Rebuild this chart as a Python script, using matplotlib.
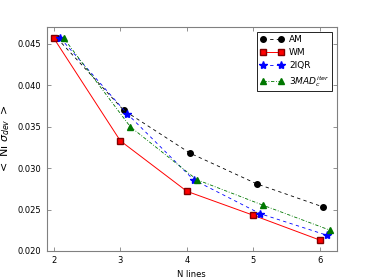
import matplotlib
matplotlib.use('Agg')
import matplotlib.pyplot as plt

# N lines and the offsets used to separate the estimators
n_lines = [2, 3, 4, 5, 6]
x_am = [2.05, 3.05, 4.05, 5.05, 6.05]
x_wm = [2.0, 3.0, 4.0, 5.0, 6.0]
x_iqr = [2.1, 3.1, 4.1, 5.1, 6.1]
x_mad = [2.15, 3.15, 4.15, 5.15, 6.15]

# < Ni sigma_dev > for each estimator
am = [0.0457, 0.0370, 0.0318, 0.0281, 0.0253]
wm = [0.0457, 0.0333, 0.0272, 0.0243, 0.0213]
iqr = [0.0457, 0.0366, 0.0286, 0.0245, 0.0219]
mad = [0.0457, 0.0350, 0.0286, 0.0255, 0.0225]

plt.rcParams['font.size'] = 6
plt.rcParams['xtick.direction'] = 'in'
plt.rcParams['ytick.direction'] = 'in'
plt.rcParams['xtick.top'] = True
plt.rcParams['ytick.right'] = True

fig = plt.figure(figsize=(3.74, 2.8), dpi=100)
ax = fig.add_axes([0.126, 0.104, 0.774, 0.798])

ax.plot(x_am, am, 'ko', ls=(0, (4, 4)), lw=0.6, ms=4, label='AM')
ax.plot(x_wm, wm, 'rs-', lw=0.7, ms=4, mec='#800000', label='WM')
ax.plot(x_iqr, iqr, 'b*', ls=(0, (4, 4)), lw=0.6, ms=6, label='2IQR')
ax.plot(x_mad, mad, '^', ls=(0, (4, 2, 1, 2)), color='#007700', lw=0.6, ms=4,
        label=r'$3MAD_c^{iter}$')

ax.set_xlim(1.9, 6.25)
ax.set_ylim(0.020, 0.047)
ax.set_xticks(n_lines)
ax.set_yticks([0.020, 0.025, 0.030, 0.035, 0.040, 0.045])
ax.set_yticklabels(['0.020', '0.025', '0.030', '0.035', '0.040', '0.045'])
ax.set_xlabel('N lines', fontsize=6)
ax.set_ylabel(r'$<$ Ni $\sigma_{dev}$ $>$', fontsize=8)
ax.yaxis.set_label_coords(-0.12, 0.5)
ax.xaxis.set_label_coords(0.5, -0.085)
for s in ax.spines.values():
    s.set_color('#808080')
ax.tick_params(length=3, width=0.6, color='#808080', pad=4)

leg = ax.legend(loc='upper right', fontsize=6.5, fancybox=False, framealpha=1,
                numpoints=2, handlelength=2.6, borderpad=0.3, labelspacing=0.45,
                handletextpad=0.6)
leg.get_frame().set_edgecolor('black')
leg.get_frame().set_linewidth(0.6)

fig.savefig('out.png', dpi=100)
